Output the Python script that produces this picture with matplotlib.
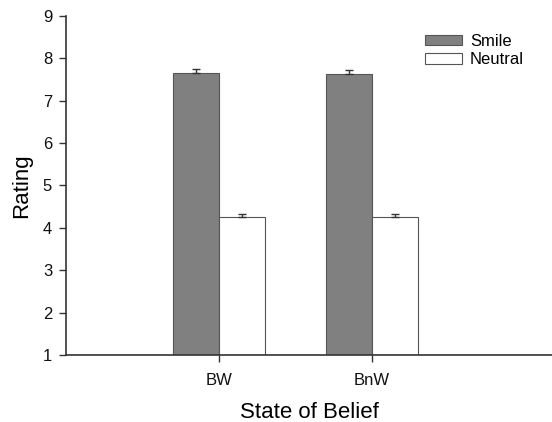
import matplotlib.pyplot as plt
import numpy as np

plt.rcParams['font.family'] = ['Liberation Sans', 'DejaVu Sans']

# data
groups = ["BW", "BnW"]
smile = [7.65, 7.64]
smile_err = [0.10, 0.09]
neutral = [4.26, 4.26]
neutral_err = [0.07, 0.06]

fig = plt.figure(figsize=(5.52, 4.22), dpi=100)
ax = fig.add_axes([0.1196, 0.1588, 0.8804, 0.8033])

x = np.arange(len(groups))
w = 0.30
ekw = dict(ecolor="#333333", elinewidth=1, capsize=3, capthick=1)
ax.bar(x - w / 2, smile, w, color="#808080", edgecolor="#555555", linewidth=0.8,
       yerr=[[0, 0], smile_err], error_kw=ekw, label="Smile")
ax.bar(x + w / 2, neutral, w, color="white", edgecolor="#555555", linewidth=0.8,
       yerr=[[0, 0], neutral_err], error_kw=ekw, label="Neutral")

ax.set_ylim(1, 9)
ax.set_xlim(-1.0, 2.18)
ax.set_yticks(range(1, 10))
ax.set_xticks(x)
ax.set_xticklabels(groups)
ax.tick_params(labelsize=12, length=5, width=1, color="#333333", labelcolor="#111111", pad=5)
ax.tick_params(axis="x", pad=8)

for s in ["top", "right"]:
    ax.spines[s].set_visible(False)
for s in ["left", "bottom"]:
    ax.spines[s].set_linewidth(1.2)
    ax.spines[s].set_color("#333333")

ax.set_ylabel("Rating", fontsize=16, labelpad=8)
ax.set_xlabel("State of Belief", fontsize=16, labelpad=10)

fig.legend(loc="upper left", bbox_to_anchor=(425 / 552, 1 - 34 / 422), frameon=False, fontsize=12,
           borderpad=0, borderaxespad=0, handlelength=2.2, handleheight=0.6,
           handletextpad=0.5, labelspacing=0.2)

fig.savefig("out.png", dpi=100)
